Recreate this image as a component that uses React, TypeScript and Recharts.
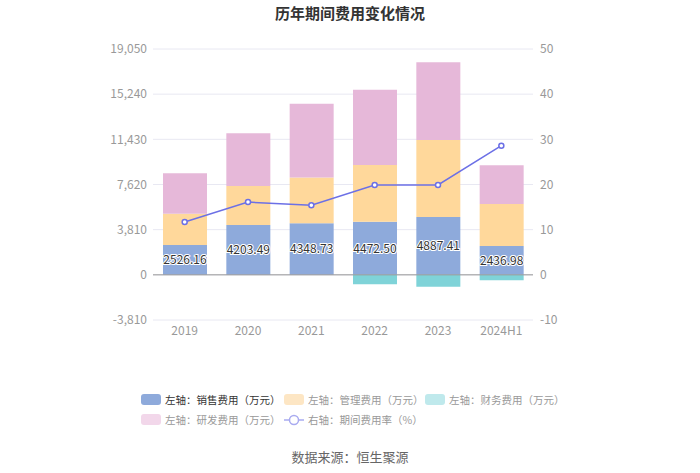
import {
    ComposedChart, Bar, Line, XAxis, YAxis, CartesianGrid, ReferenceLine, LabelList,
} from "recharts";

// Data
const years = ["2019", "2020", "2021", "2022", "2023", "2024H1"];
const sales = [2526.16, 4203.49, 4348.73, 4472.5, 4887.41, 2436.98];
const admin = [2616, 3299, 3853, 4800, 6493, 3548];
const finance = [0, 0, 0, -784, -1012, -447];
const rnd = [3431, 4442, 6238, 6348, 6549, 3262];
const rate = [11.7, 16.1, 15.4, 19.9, 19.9, 28.6];

const leftTicks = [-3810, 0, 3810, 7620, 11430, 15240, 19050];
const rightTicks = [-10, 0, 10, 20, 30, 40, 50];

const data = years.map((y, i) => ({
    name: y, sales: sales[i], admin: admin[i], finance: finance[i], rnd: rnd[i], rate: rate[i],
}));

const FONT = '"Noto Sans CJK SC", "Noto Sans", sans-serif';

const legendRow1 = [
    { label: "左轴：销售费用（万元）", color: "#8eaadb", text: "#333", left: 141 },
    { label: "左轴：管理费用（万元）", color: "#fde6c4", text: "#999", left: 284 },
    { label: "左轴：财务费用（万元）", color: "#bfe9ec", text: "#999", left: 425 },
];
const legendRow2 = [
    { label: "左轴：研发费用（万元）", color: "#f2d7ea", text: "#999", left: 141 },
];

const fmtThousands = (v: number) => v.toLocaleString("en-US");

export default function App() {
    return (
        <div style={{ position: "relative", width: 700, height: 473, background: "#fff", fontFamily: FONT }}>
            <style>{`body{margin:0}`}</style>
            <div style={{ position: "absolute", top: 2, width: 700, textAlign: "center", fontSize: 15, fontWeight: "bold", color: "#333" }}>
                历年期间费用变化情况
            </div>

            <ComposedChart
                width={700}
                height={473}
                data={data}
                stackOffset="sign"
                margin={{ top: 49, right: 0, bottom: 123, left: 0 }}
            >
                <CartesianGrid vertical={false} stroke="#e8e8f2" yAxisId="left" />
                <XAxis
                    dataKey="name"
                    axisLine={false}
                    tickLine={false}
                    tickSize={0}
                    tickMargin={6}
                    height={30}
                    tick={{ fill: "#999", fontSize: 12, fontFamily: FONT }}
                />
                <YAxis
                    yAxisId="left"
                    domain={[-3810, 19050]}
                    ticks={leftTicks}
                    tickFormatter={fmtThousands}
                    axisLine={false}
                    tickLine={false}
                    tickSize={0}
                    tickMargin={6}
                    width={153}
                    tick={{ fill: "#999", fontSize: 12, fontFamily: FONT }}
                />
                <YAxis
                    yAxisId="right"
                    orientation="right"
                    domain={[-10, 50]}
                    ticks={rightTicks}
                    axisLine={false}
                    tickLine={false}
                    tickSize={0}
                    tickMargin={7}
                    width={167}
                    tick={{ fill: "#999", fontSize: 12, fontFamily: FONT, textAnchor: "start" }}
                />
                <ReferenceLine yAxisId="left" y={0} stroke="#999" />
                <Bar yAxisId="left" dataKey="sales" stackId="a" fill="#8eaadb" barSize={44} isAnimationActive={false}>
                    <LabelList
                        dataKey="sales"
                        position="center"
                        formatter={(v: any) => Number(v).toFixed(2)}
                        style={{ fill: "#333", stroke: "#fff", strokeWidth: 2, paintOrder: "stroke", fontSize: 12, fontFamily: FONT }}
                    />
                </Bar>
                <Bar yAxisId="left" dataKey="admin" stackId="a" fill="#ffd89b" barSize={44} isAnimationActive={false} />
                <Bar yAxisId="left" dataKey="finance" stackId="a" fill="#7fd3d8" barSize={44} isAnimationActive={false} />
                <Bar yAxisId="left" dataKey="rnd" stackId="a" fill="#e6b8d9" barSize={44} isAnimationActive={false} />
                <Line
                    yAxisId="right"
                    dataKey="rate"
                    stroke="#6c70e6"
                    strokeWidth={1.5}
                    dot={{ r: 2.5, fill: "#fff", stroke: "#6c70e6", strokeWidth: 1.5 }}
                    isAnimationActive={false}
                />
            </ComposedChart>

            {[...legendRow1.map((l) => ({ ...l, top: 392 })), ...legendRow2.map((l) => ({ ...l, top: 412 }))].map((l) => (
                <div key={l.label} style={{ position: "absolute", top: l.top, left: l.left, display: "flex", alignItems: "center", fontSize: 10.5, color: l.text, whiteSpace: "nowrap" }}>
                    <span style={{ display: "inline-block", width: 20, height: 11, borderRadius: 3, background: l.color, marginRight: 4 }} />
                    {l.label}
                </div>
            ))}
            <div style={{ position: "absolute", top: 412, left: 284, display: "flex", alignItems: "center", fontSize: 10.5, color: "#999", whiteSpace: "nowrap" }}>
                <svg width={20} height={12} style={{ marginRight: 4 }}>
                    <line x1={0} y1={6} x2={20} y2={6} stroke="#a9abf0" strokeWidth={1.5} />
                    <circle cx={10} cy={6} r={4.5} fill="#fff" stroke="#a9abf0" strokeWidth={1.5} />
                </svg>
                右轴：期间费用率（%）
            </div>

            <div style={{ position: "absolute", top: 447, width: 700, textAlign: "center", fontSize: 13, color: "#666" }}>
                数据来源：恒生聚源
            </div>
        </div>
    );
}
